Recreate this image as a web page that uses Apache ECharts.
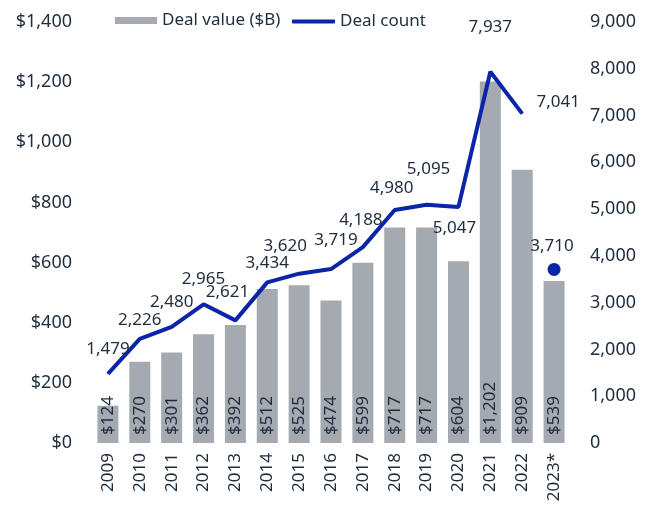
<!DOCTYPE html>
<html lang="en">
<head>
    <meta charset="UTF-8">
    <title>Deal value and deal count</title>
    <script src="https://cdn.jsdelivr.net/npm/echarts@6/dist/echarts.min.js"></script>
    <style type="text/css">
        *{
            margin: 0;
            padding: 0;
        }
        #chart{
            width: 655px;
            height: 505px;
        }
    </style>
</head>
<body>
<div id="chart"></div>
<script>
    // 年份
    var years = ['2009','2010','2011','2012','2013','2014','2015','2016','2017','2018','2019','2020','2021','2022','2023*'];
    // 交易金额 ($B)
    var dealValue = [124, 270, 301, 362, 392, 512, 525, 474, 599, 717, 717, 604, 1202, 909, 539];
    // 交易数量 (2009-2022)
    var dealCount = [1479, 2226, 2480, 2965, 2621, 3434, 3620, 3719, 4188, 4980, 5095, 5047, 7937, 7041];
    // 2023* 单独一点
    var dealCount2023 = 3710;

    // label tweaks (index -> [dx, dy])
    var countLabelShift = {
        0: [0, -6], 2: [0, -6], 3: [0, -6], 4: [-8, -9], 6: [-14, -9], 7: [5, -10], 8: [-2, -8],
        9: [-3, -3], 10: [2, -17], 11: [-4, 40], 12: [0, -26], 13: [36, 8]
    };

    var textColor = '#1e2c3c';
    var font = 'Noto Sans';
    var blue = '#0a25a8';

    var countData = [];
    for (var i = 0; i < years.length; i++) {
        if (i < dealCount.length) {
            var item = { value: dealCount[i] };
            if (countLabelShift[i]) item.label = { offset: countLabelShift[i] };
            countData.push(item);
        } else {
            countData.push(null);
        }
    }
    var lastData = years.map(function (y, i) {
        return i === years.length - 1 ? dealCount2023 : null;
    });

    function fmt(v) {
        return v.toString().replace(/\B(?=(\d{3})+(?!\d))/g, ',');
    }

    var legendText = { fontFamily: font, fontSize: 17, color: textColor };

    var myChart = echarts.init(document.getElementById('chart'));
    var option = {
        animation: false,
        textStyle: { fontFamily: font, color: textColor },
        legend: [
            {
                data: [{ name: 'Deal value ($B)', icon: 'rect' }],
                top: 12,
                left: 115,
                padding: 0,
                itemWidth: 42,
                itemHeight: 7,
                textStyle: legendText
            },
            {
                data: [{ name: 'Deal count', icon: 'roundRect' }],
                top: 13,
                left: 292,
                padding: 0,
                itemWidth: 43,
                itemHeight: 4,
                textStyle: legendText
            }
        ],
        grid: { left: 92, right: 85, top: 22, bottom: 62 },
        xAxis: {
            type: 'category',
            data: years,
            axisLine: { show: false },
            axisTick: { show: false },
            axisLabel: {
                rotate: 90,
                interval: 0,
                margin: 10,
                fontSize: 17,
                fontFamily: font,
                color: textColor
            }
        },
        yAxis: [
            {
                type: 'value',
                min: 0,
                max: 1400,
                interval: 200,
                splitLine: { show: false },
                axisLine: { show: false },
                axisTick: { show: false },
                axisLabel: {
                    margin: 20,
                    fontSize: 18,
                    fontFamily: font,
                    color: textColor,
                    formatter: function (v) { return '$' + fmt(v); }
                }
            },
            {
                type: 'value',
                min: 0,
                max: 9000,
                interval: 1000,
                splitLine: { show: false },
                axisLine: { show: false },
                axisTick: { show: false },
                axisLabel: {
                    margin: 20,
                    fontSize: 18,
                    fontFamily: font,
                    color: textColor,
                    formatter: function (v) { return fmt(v); }
                }
            }
        ],
        series: [
            {
                name: 'Deal value ($B)',
                type: 'bar',
                data: dealValue,
                barWidth: 21,
                itemStyle: { color: '#a5aab0' },
                label: {
                    show: true,
                    position: 'insideBottom',
                    rotate: 90,
                    align: 'left',
                    verticalAlign: 'middle',
                    distance: 8,
                    fontSize: 17,
                    fontFamily: font,
                    color: textColor,
                    formatter: function (p) { return '$' + fmt(p.value); }
                }
            },
            {
                name: 'Deal count',
                type: 'line',
                yAxisIndex: 1,
                data: countData,
                symbol: 'circle',
                symbolSize: 1,
                showSymbol: true,
                lineStyle: { color: blue, width: 4 },
                itemStyle: { color: blue },
                label: {
                    show: true,
                    position: 'top',
                    distance: 10,
                    fontSize: 17,
                    fontFamily: font,
                    color: textColor,
                    formatter: function (p) { return fmt(p.value); }
                }
            },
            {
                name: 'Deal count 2023',
                type: 'line',
                yAxisIndex: 1,
                data: lastData,
                symbol: 'circle',
                symbolSize: 13,
                itemStyle: { color: blue },
                label: {
                    show: true,
                    position: 'top',
                    distance: 8,
                    offset: [-2, 0],
                    fontSize: 17,
                    fontFamily: font,
                    color: textColor,
                    formatter: function (p) { return fmt(p.value); }
                }
            }
        ]
    };
    myChart.setOption(option);
</script>
</body>
</html>
